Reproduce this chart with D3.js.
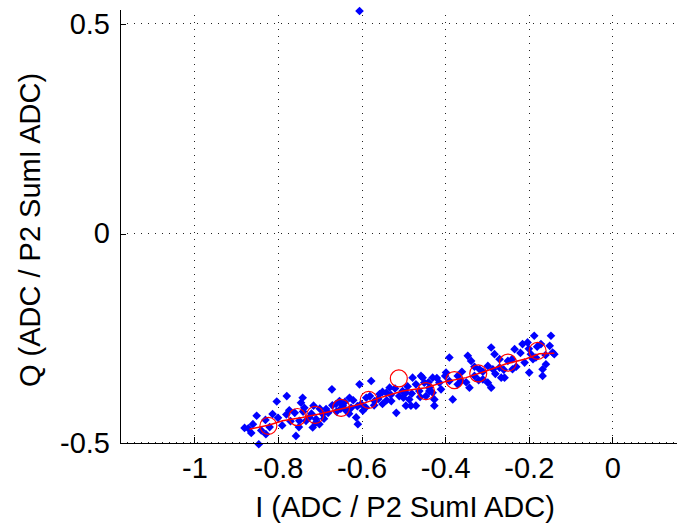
<!DOCTYPE html>
<html lang="en">
    <head>
        <meta charset="utf-8">
        <title>I/Q scatter</title>
        <script type="text/javascript" src="https://cdn.jsdelivr.net/npm/d3@7"></script>
        <style type="text/css">
            body { margin: 0; background: #fff; }
            text { font-family: "Liberation Sans", Arial, sans-serif; fill: #000; }
            .grid line { stroke: #222; stroke-dasharray: 1 6; shape-rendering: crispEdges; }
            .grid path { display: none; }
            .axis path, .axis line { stroke: #000; shape-rendering: crispEdges; }
        </style>
    </head>
    <body>
        <script type="text/javascript">
            //Chart data
            var xTicks = [-1, -0.8, -0.6, -0.4, -0.2, 0];
            var yTicks = [-0.5, 0, 0.5];
            var xLabel = "I (ADC / P2 SumI ADC)";
            var yLabel = "Q (ADC / P2 SumI ADC)";

            //blue samples: I values and Q values
            var sampleI = [-0.871, -0.851, -0.846, -0.829, -0.813, -0.803, -0.779, -0.773, -0.757, -0.749,
                           -0.745, -0.741, -0.737, -0.733, -0.725, -0.717, -0.715, -0.709, -0.701, -0.693,
                           -0.685, -0.671, -0.661, -0.653, -0.645, -0.637, -0.629, -0.625, -0.613, -0.609,
                           -0.605, -0.601, -0.597, -0.589, -0.577, -0.569, -0.557, -0.550, -0.541, -0.533,
                           -0.529, -0.517, -0.510, -0.502, -0.494, -0.486, -0.478, -0.470, -0.462, -0.454,
                           -0.446, -0.438, -0.430, -0.426, -0.426, -0.414, -0.398, -0.390, -0.390, -0.382,
                           -0.370, -0.362, -0.346, -0.342, -0.338, -0.330, -0.318, -0.310, -0.298, -0.298,
                           -0.290, -0.286, -0.290, -0.282, -0.270, -0.266, -0.258, -0.250, -0.234, -0.239,
                           -0.215, -0.203, -0.199, -0.195, -0.187, -0.183, -0.171, -0.167, -0.167, -0.159,
                           -0.147, -0.143, -0.139, -0.494, -0.482, -0.438, -0.450, -0.458, -0.880, -0.864,
                           -0.605,
                           -0.86, -0.84, -0.83, -0.82, -0.80, -0.79, -0.78, -0.77, -0.76, -0.75,
                           -0.74, -0.72, -0.71, -0.70, -0.69, -0.68, -0.67, -0.66, -0.65, -0.64,
                           -0.63, -0.62, -0.61, -0.59, -0.58, -0.57, -0.56, -0.55, -0.54, -0.53,
                           -0.52, -0.50, -0.49, -0.48, -0.47, -0.46, -0.44, -0.43, -0.42, -0.41,
                           -0.40, -0.37, -0.36, -0.35, -0.33, -0.32, -0.31, -0.28, -0.27, -0.26,
                           -0.24, -0.23, -0.22, -0.21, -0.20, -0.19, -0.18, -0.16, -0.15];
            var sampleQ = [-0.465, -0.435, -0.503, -0.479, -0.431, -0.401, -0.388, -0.422, -0.483, -0.447,
                           -0.404, -0.392, -0.416, -0.447, -0.439, -0.463, -0.411, -0.443, -0.455, -0.431,
                           -0.419, -0.372, -0.407, -0.400, -0.411, -0.423, -0.392, -0.416, -0.439, -0.455,
                           -0.360, -0.407, -0.423, -0.392, -0.352, -0.400, -0.383, -0.407, -0.380, -0.368,
                           -0.400, -0.428, -0.388, -0.376, -0.380, -0.396, -0.344, -0.411, -0.376, -0.344,
                           -0.388, -0.368, -0.344, -0.396, -0.411, -0.356, -0.332, -0.296, -0.352, -0.396,
                           -0.340, -0.352, -0.292, -0.368, -0.304, -0.340, -0.324, -0.348, -0.316, -0.356,
                           -0.368, -0.324, -0.272, -0.288, -0.320, -0.344, -0.344, -0.304, -0.276, -0.324,
                           -0.264, -0.260, -0.332, -0.288, -0.244, -0.296, -0.264, -0.324, -0.340, -0.312,
                           -0.244, -0.284, -0.288, -0.411, -0.411, -0.376, -0.356, -0.340, -0.464, -0.476,
                           0.531,
                           -0.455, -0.470, -0.445, -0.462, -0.440, -0.458, -0.432, -0.448, -0.428, -0.462,
                           -0.425, -0.430, -0.452, -0.418, -0.442, -0.428, -0.410, -0.425, -0.418, -0.402,
                           -0.430, -0.398, -0.412, -0.415, -0.388, -0.410, -0.395, -0.378, -0.398, -0.385,
                           -0.370, -0.392, -0.365, -0.382, -0.360, -0.390, -0.355, -0.380, -0.345, -0.372,
                           -0.340, -0.360, -0.330, -0.355, -0.318, -0.350, -0.330, -0.335, -0.300, -0.325,
                           -0.300, -0.318, -0.285, -0.308, -0.275, -0.300, -0.270, -0.290, -0.268];

            //red bin means (circles)
            var meanI = [-0.823, -0.754, -0.711, -0.649, -0.583, -0.511, -0.446, -0.378, -0.321, -0.250, -0.179];
            var meanQ = [-0.459, -0.438, -0.433, -0.416, -0.397, -0.346, -0.376, -0.350, -0.334, -0.308, -0.280];

            //red trend line
            var lineI = [-0.868, -0.821, -0.789, -0.742, -0.701, -0.637, -0.598, -0.550, -0.502,
                         -0.446, -0.398, -0.350, -0.302, -0.254, -0.206, -0.175, -0.139];
            var lineQ = [-0.467, -0.457, -0.447, -0.439, -0.431, -0.416, -0.406, -0.390, -0.376,
                         -0.368, -0.353, -0.344, -0.328, -0.311, -0.299, -0.287, -0.286];

            //Create svg space
            var w = 677;
            var h = 523;
            var left = 120;
            var bottom = 443;

            var svg = d3.select("body")
                        .append("svg")
                        .attr("width", w)
                        .attr("height", h);

            //Scales (plot runs off the right and top edge of the picture)
            var xScale = d3.scaleLinear()
                            .domain([-1.178, 0.2])
                            .range([left, left + 1.378 * 418]);

            var yScale = d3.scaleLinear()
                            .domain([-0.5, 0.533])
                            .range([bottom, bottom - 1.033 * 419]);

            var plotW = xScale.range()[1] - left;
            var plotH = bottom - yScale.range()[1];

            //Dotted grid
            svg.append("g")
                .attr("class", "grid")
                .attr("transform", "translate(0," + bottom + ")")
                .call(d3.axisBottom(xScale).tickValues(xTicks).tickSize(-plotH).tickFormat(""));

            svg.append("g")
                .attr("class", "grid")
                .attr("transform", "translate(" + left + ",-1)")
                .call(d3.axisLeft(yScale).tickValues(yTicks).tickSize(-plotW).tickFormat(""));

            //Blue samples
            var samples = sampleI.map(function(d, i) { return [d, sampleQ[i]]; });
            var diamond = d3.symbol().type(d3.symbolDiamond2).size(48);

            svg.append("g")
                .selectAll("path")
                .data(samples)
                .enter()
                .append("path")
                .attr("d", diamond)
                .attr("transform", function(d) {
                    return "translate(" + xScale(d[0]) + "," + yScale(d[1]) + ")";
                })
                .attr("fill", "#0000ff");

            //Red trend line
            var trend = lineI.map(function(d, i) { return [d, lineQ[i]]; });
            svg.append("path")
                .datum(trend)
                .attr("fill", "none")
                .attr("stroke", "#ff0000")
                .attr("stroke-width", 1.5)
                .attr("d", d3.line()
                    .x(function(d) { return xScale(d[0]); })
                    .y(function(d) { return yScale(d[1]); }));

            //Red circles
            var means = meanI.map(function(d, i) { return [d, meanQ[i]]; });
            svg.append("g")
                .selectAll("circle")
                .data(means)
                .enter()
                .append("circle")
                .attr("cx", function(d) { return xScale(d[0]); })
                .attr("cy", function(d) { return yScale(d[1]); })
                .attr("r", 8.5)
                .attr("fill", "none")
                .attr("stroke", "#ff0000")
                .attr("stroke-width", 1.2);

            //Axes last so they sit on top
            var xAxis = d3.axisBottom(xScale)
                            .tickValues(xTicks)
                            .tickSize(-6)
                            .tickPadding(14)
                            .tickFormat(d3.format("~g"));

            var yAxis = d3.axisLeft(yScale)
                            .tickValues(yTicks)
                            .tickSize(-6)
                            .tickPadding(10)
                            .tickFormat(d3.format("~g"));

            var gx = svg.append("g")
                .attr("class", "axis")
                .attr("transform", "translate(0," + bottom + ")")
                .call(xAxis);

            var gy = svg.append("g")
                .attr("class", "axis")
                .attr("transform", "translate(" + left + ",0)")
                .call(yAxis);

            //only bottom and left spines, running off the picture
            gx.select(".domain").attr("d", "M" + left + ",0.5H" + w);
            gy.select(".domain").attr("d", "M0.5," + yScale.range()[1] + "V" + bottom);

            svg.selectAll(".axis text")
                .attr("font-size", 29)
                .attr("font-family", null)
                .text(function() { return d3.select(this).text().replace("−", "-"); });

            //Axis titles
            svg.append("text")
                .attr("x", 405)
                .attr("y", 517)
                .attr("text-anchor", "middle")
                .attr("font-size", 29)
                .text(xLabel);

            svg.append("text")
                .attr("transform", "translate(40,230) rotate(-90)")
                .attr("text-anchor", "middle")
                .attr("font-size", 29)
                .text(yLabel);
        </script>
    </body>
</html>
